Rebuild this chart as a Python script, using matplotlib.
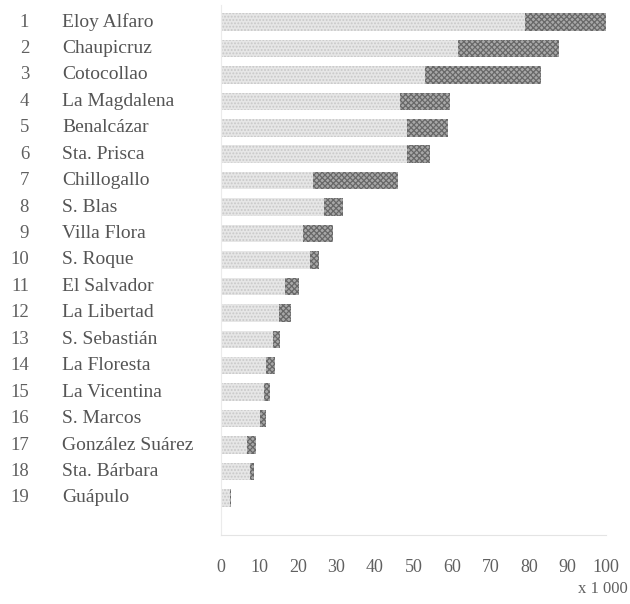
import matplotlib.pyplot as plt
import matplotlib.transforms as mtransforms
import numpy as np

plt.rcParams['font.family'] = ['Liberation Serif', 'DejaVu Serif']
plt.rcParams['hatch.linewidth'] = 0.9

barrios = ['Eloy Alfaro', 'Chaupicruz', 'Cotocollao', 'La Magdalena', 'Benalcázar',
           'Sta. Prisca', 'Chillogallo', 'S. Blas', 'Villa Flora', 'S. Roque',
           'El Salvador', 'La Libertad', 'S. Sebastián', 'La Floresta', 'La Vicentina',
           'S. Marcos', 'González Suárez', 'Sta. Bárbara', 'Guápulo']
# light part and total length of each bar (x 1000)
parte_clara = [79, 61.5, 53, 46.6, 48.4, 48.4, 24, 26.8, 21.3, 23.2,
               16.7, 15.1, 13.5, 11.7, 11.2, 10.2, 6.8, 7.6, 2.3]
total = [100, 87.8, 83, 59.4, 59, 54.4, 46, 31.8, 29, 25.5,
         20.3, 18.2, 15.3, 14, 12.8, 11.7, 9.1, 8.6, 2.5]
parte_oscura = [t - c for t, c in zip(total, parte_clara)]
xticks = np.arange(0, 101, 10)

txt = '#555555'
fig = plt.figure(figsize=(6.3, 6.04), dpi=100)
ax = fig.add_axes([221/630, 1 - 535/604, 385/630, 530/604])

y = np.arange(len(barrios))
ax.barh(y, parte_clara, height=0.66, color='#e6e6e6', hatch='.....',
        edgecolor='#c8c8c8', linewidth=0)
ax.barh(y, parte_oscura, left=parte_clara, height=0.66, color='#a8a8a8',
        hatch='xxxxxx', edgecolor='#686868', linewidth=0)

ax.set_xlim(0, 100)
ax.set_ylim(19.4, -0.643)
ax.set_yticks([])
ax.set_xticks(xticks)
ax.set_xticklabels([str(v) for v in xticks], fontsize=13, color='#606060')
ax.tick_params(axis='x', length=0, pad=17)
for s in ['top', 'right']:
    ax.spines[s].set_visible(False)
ax.spines['bottom'].set_color('#e4e4e4')
ax.spines['left'].set_color('#ebebeb')

trans = mtransforms.blended_transform_factory(fig.transFigure, ax.transData)
for i, nombre in enumerate(barrios):
    ax.text(29/630, i, str(i + 1), transform=trans, ha='right', va='center',
            fontsize=13.5, color='#606060')
    ax.text(62/630, i, nombre, transform=trans, ha='left', va='center',
            fontsize=14, color=txt)

fig.text(628/630, 1 - 589/604, 'x 1 000', ha='right', va='center', fontsize=12, color='#606060')

fig.savefig('out.png', dpi=100)
